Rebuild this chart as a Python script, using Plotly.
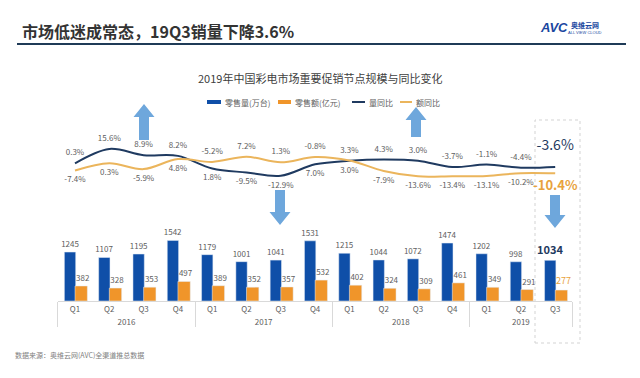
import plotly.graph_objects as go

# ---------------- data ----------------
years = ["2016"] * 4 + ["2017"] * 4 + ["2018"] * 4 + ["2019"] * 3
quarters = ["Q1", "Q2", "Q3", "Q4"] * 3 + ["Q1", "Q2", "Q3"]
volume = [1245, 1107, 1195, 1542, 1179, 1001, 1041, 1531, 1215, 1044, 1072, 1474, 1202, 998, 1034]
revenue = [382, 328, 353, 497, 389, 352, 357, 532, 402, 324, 309, 461, 349, 291, 277]
vol_yoy = [0.3, 15.6, 8.9, 8.2, -5.2, -9.5, -12.9, -0.8, 3.0, 4.3, 3.0, -3.7, -1.1, -4.4, -3.6]
rev_yoy = [-7.4, 0.3, -5.9, 4.8, 1.8, 7.2, 1.3, 7.0, 3.3, -7.9, -13.6, -13.4, -13.1, -10.2, -10.4]
top_labels = ["0.3%", "15.6%", "8.9%", "8.2%", "-5.2%", "7.2%", "1.3%", "-0.8%",
              "3.3%", "4.3%", "3.0%", "-3.7%", "-1.1%", "-4.4%"]
bottom_labels = ["-7.4%", "0.3%", "-5.9%", "4.8%", "1.8%", "-9.5%", "-12.9%", "7.0%",
                 "3.0%", "-7.9%", "-13.6%", "-13.4%", "-13.1%", "-10.2%"]
series_names = ["零售量(万台)", "零售额(亿元)", "量同比", "额同比"]

# ---------------- style ----------------
OX, OY = 8, 8            # page margin of the html body
FW, FH = 632, 370        # figure size so it fits the 640x378 window
BLUE = "#0f4fa8"
ORANGE = "#f0952a"
NAVY = "#1f3a60"
GOLD = "#ebb55c"
GRAY = "#606060"
ARROW = "#6ea7dc"
HL_ORANGE = "#e8a23c"
FONT = "Noto Sans CJK SC"
NB = "\u00a0\u00a0"      # nudges the revenue labels slightly right


def px(x):
    return (x - OX) / FW


def py(y):
    return 1 - (y - OY) / FH


n = len(volume)
xcat = [years, quarters]
last = n - 1

fig = go.Figure()

# bars
fig.add_trace(go.Bar(
    x=xcat, y=volume, name=series_names[0], marker_color=BLUE,
    width=0.33, offset=-0.31,
    text=[("<b>%d</b>" % v) if i == last else str(v) for i, v in enumerate(volume)],
    textposition="outside", constraintext="none", cliponaxis=False,
    textfont=dict(size=[8] * last + [11], color=[GRAY] * last + [NAVY], family=FONT),
    hoverinfo="skip", showlegend=False,
))
fig.add_trace(go.Bar(
    x=xcat, y=revenue, name=series_names[1], marker_color=ORANGE,
    width=0.36, offset=0.0,
    text=[NB + str(v) for v in revenue],
    textposition="outside", constraintext="none", cliponaxis=False,
    textfont=dict(size=[8] * last + [9], color=[GRAY] * last + [HL_ORANGE], family=FONT),
    hoverinfo="skip", showlegend=False,
))

# lines
fig.add_trace(go.Scatter(
    x=xcat, y=vol_yoy, name=series_names[2], mode="lines", yaxis="y2",
    line=dict(color=NAVY, width=2, shape="spline"), hoverinfo="skip", showlegend=False,
))
fig.add_trace(go.Scatter(
    x=xcat, y=rev_yoy, name=series_names[3], mode="lines", yaxis="y2",
    line=dict(color=GOLD, width=2, shape="spline"), hoverinfo="skip", showlegend=False,
))

# line value labels
xl = [years[:last], quarters[:last]]
top_y = [max(a, b) + 10.5 for a, b in zip(vol_yoy[:last], rev_yoy[:last])]
bot_y = [min(a, b) - 10.5 for a, b in zip(vol_yoy[:last], rev_yoy[:last])]
fig.add_trace(go.Scatter(
    x=xl, y=top_y, text=top_labels, mode="text", yaxis="y2", showlegend=False,
    textposition="middle center", textfont=dict(size=8, color=GRAY, family=FONT),
    cliponaxis=False, hoverinfo="skip",
))
fig.add_trace(go.Scatter(
    x=xl, y=bot_y, text=bottom_labels, mode="text", yaxis="y2", showlegend=False,
    textposition="middle center", textfont=dict(size=8, color=GRAY, family=FONT),
    cliponaxis=False, hoverinfo="skip",
))
# highlighted latest quarter
fig.add_trace(go.Scatter(
    x=[[years[last]] * 2, [quarters[last]] * 2],
    y=[vol_yoy[last] + 22, rev_yoy[last] - 14],
    text=["%.1f%%" % vol_yoy[last], "<b>%.1f%%</b>" % rev_yoy[last]],
    mode="text", yaxis="y2", showlegend=False, textposition="middle center",
    textfont=dict(size=[14, 13], color=[NAVY, HL_ORANGE], family=FONT),
    cliponaxis=False, hoverinfo="skip",
))


def arrow(cx, y_tail, y_tip, shaft_w=10, head_w=21, head_len=13):
    up = y_tip < y_tail
    y_neck = y_tip + head_len if up else y_tip - head_len
    pts = [(cx - shaft_w / 2, y_tail), (cx - shaft_w / 2, y_neck), (cx - head_w / 2, y_neck),
           (cx, y_tip), (cx + head_w / 2, y_neck), (cx + shaft_w / 2, y_neck),
           (cx + shaft_w / 2, y_tail)]
    path = "M " + " L ".join("%.5f,%.5f" % (px(a), py(b)) for a, b in pts) + " Z"
    return dict(type="path", path=path, xref="paper", yref="paper",
                fillcolor=ARROW, line=dict(width=0), layer="below")


def paper_text(text, x, y, size, color, anchor="left", family=FONT):
    return dict(text=text, x=px(x), y=py(y), xref="paper", yref="paper",
                xanchor=anchor, yanchor="middle", showarrow=False,
                font=dict(size=size, color=color, family=family))


shapes = [
    dict(type="line", xref="paper", yref="paper", x0=px(17), x1=px(626), y0=py(44), y1=py(44),
         line=dict(color="#1f3b57", width=2)),
    dict(type="rect", xref="paper", yref="paper", x0=px(535), x1=px(580), y0=py(343), y1=py(120),
         line=dict(color="#d3d3d3", width=1, dash="dot"), layer="below"),
    arrow(144, 140, 104),
    arrow(280, 190, 225),
    arrow(416, 137, 107),
    arrow(555, 195, 228),
]

# custom legend (small swatches like the original)
legend_items = [  # (swatch x0, x1, kind, colour, text x)
    (207, 221, "box", BLUE, 223),
    (278, 291, "box", ORANGE, 293),
    (352, 365, "line", NAVY, 367),
    (400, 412, "line", GOLD, 414),
]
LEG_Y = 102
annotations = []
for (x0, x1, kind, col, tx), name in zip(legend_items, series_names):
    if kind == "box":
        shapes.append(dict(type="rect", xref="paper", yref="paper", x0=px(x0), x1=px(x1),
                           y0=py(LEG_Y + 2), y1=py(LEG_Y - 2), fillcolor=col, line=dict(width=0)))
    else:
        shapes.append(dict(type="line", xref="paper", yref="paper", x0=px(x0), x1=px(x1),
                           y0=py(LEG_Y), y1=py(LEG_Y), line=dict(color=col, width=2)))
    annotations.append(paper_text(name, tx, LEG_Y, 8, GRAY))

annotations += [
    paper_text("<b>市场低迷成常态，19Q3销量下降3.6%</b>", 20, 31, 16, "#333333"),
    paper_text("<b><i>AVC</i></b>", 554, 27, 13, "#1a47a0", anchor="center", family="Liberation Sans"),
    paper_text("<b>奥维云网</b>", 585, 25, 7, "#1a47a0", anchor="center"),
    paper_text("ALL VIEW CLOUD", 585, 33, 4, "#1a47a0", anchor="center", family="Liberation Sans"),
    paper_text("2019年中国彩电市场重要促销节点规模与同比变化", 320, 78, 11, "#404040", anchor="center"),
    paper_text("数据来源：奥维云网(AVC)全渠道推总数据", 13, 355, 7, "#808080"),
]

fig.update_layout(
    width=FW, height=FH,
    margin=dict(l=0, r=0, t=0, b=0),
    paper_bgcolor="white", plot_bgcolor="rgba(0,0,0,0)",
    barmode="overlay",
    font=dict(family=FONT, color=GRAY, size=8),
    showlegend=False,
    xaxis=dict(type="multicategory", domain=[px(57.85), px(572.35)], range=[-0.5, n - 0.5],
               showline=True, linecolor="#d9d9d9", linewidth=1,
               showdividers=True, dividercolor="#d9d9d9", dividerwidth=1,
               ticks="", tickfont=dict(size=8, color=GRAY, family=FONT),
               showgrid=False, zeroline=False, anchor="y"),
    yaxis=dict(domain=[py(301), py(220)], range=[0, 81 / 0.0393], visible=False, showgrid=False),
    yaxis2=dict(domain=[py(190), py(130)], range=[-28.1, 35.7], visible=False, showgrid=False,
                anchor="x"),
    shapes=shapes,
    annotations=annotations,
)

fig.write_html("out.html")
